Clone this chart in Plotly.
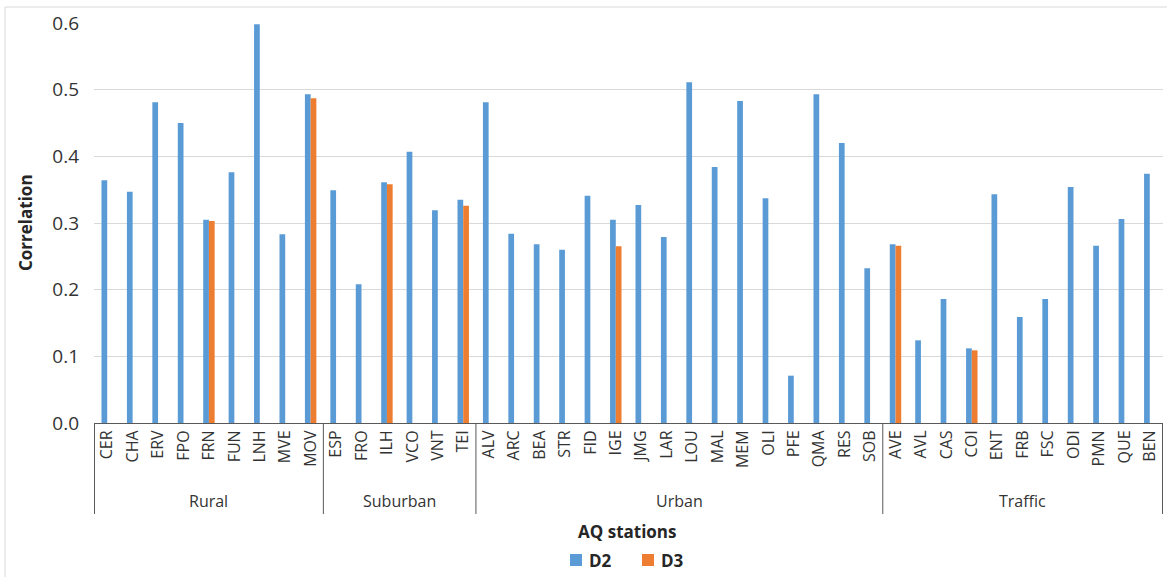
import plotly.graph_objects as go

# ---------------- data ----------------
group_names = ["Rural", "Suburban", "Urban", "Traffic"]

rural = ["CER", "CHA", "ERV", "FPO", "FRN", "FUN", "LNH", "MVE", "MOV"]
suburban = ["ESP", "FRO", "ILH", "VCO", "VNT", "TEI"]
urban = ["ALV", "ARC", "BEA", "STR", "FID", "IGE", "JMG", "LAR", "LOU", "MAL",
         "MEM", "OLI", "PFE", "QMA", "RES", "SOB"]
traffic = ["AVE", "AVL", "CAS", "COI", "ENT", "FRB", "FSC", "ODI", "PMN", "QUE", "BEN"]

d2_rural = [0.364, 0.347, 0.481, 0.450, 0.305, 0.376, 0.598, 0.283, 0.493]
d3_rural = [None, None, None, None, 0.303, None, None, None, 0.487]

d2_suburban = [0.349, 0.208, 0.361, 0.407, 0.319, 0.335]
d3_suburban = [None, None, 0.358, None, None, 0.326]

d2_urban = [0.481, 0.284, 0.268, 0.260, 0.341, 0.305, 0.327, 0.279, 0.511, 0.384,
            0.483, 0.337, 0.071, 0.493, 0.420, 0.232]
d3_urban = [None, None, None, None, None, 0.265, None, None, None, None,
            None, None, None, None, None, None]

d2_traffic = [0.268, 0.124, 0.186, 0.112, 0.343, 0.159, 0.186, 0.354, 0.266, 0.306, 0.374]
d3_traffic = [0.266, None, None, 0.109, None, None, None, None, None, None, None]

series_names = ["D2", "D3"]

# ---------------- build ----------------
groups = [rural, suburban, urban, traffic]
stations = rural + suburban + urban + traffic
d2 = d2_rural + d2_suburban + d2_urban + d2_traffic
d3 = d3_rural + d3_suburban + d3_urban + d3_traffic

FONT = "Open Sans"
TXT = "#333333"
DARK = "#262626"
BLUE = "#5B9BD5"
ORANGE = "#ED7D31"
AXIS = "#595959"

W, H = 1167, 577
ML, MR, MT, MB = 94, 4, 23, 154
PW, PH = W - ML - MR, H - MT - MB


def px_x(px):
    return (px - ML) / PW


def px_y(py):
    return (H - MB - py) / PH


fig = go.Figure()
fig.add_trace(go.Bar(x=stations, y=d2, name=series_names[0], showlegend=False,
                     marker=dict(color=BLUE, line=dict(width=0))))
fig.add_trace(go.Bar(x=stations, y=d3, name=series_names[1], showlegend=False,
                     marker=dict(color=ORANGE, line=dict(width=0))))

shapes = []
annotations = []

# group dividers and labels
start = 0
bounds = [-0.5]
for g, members in zip(group_names, groups):
    end = start + len(members)
    bounds.append(end - 0.5)
    annotations.append(dict(
        x=(start + end - 1) / 2, y=px_y(501), xref="x", yref="paper",
        text=g, showarrow=False, yanchor="middle",
        font=dict(family=FONT, size=16, color=TXT)))
    start = end
for b in bounds:
    shapes.append(dict(type="line", xref="x", yref="paper",
                       x0=b, x1=b, y0=0, y1=px_y(514),
                       line=dict(color=AXIS, width=1)))

# chart border
shapes.append(dict(type="rect", xref="paper", yref="paper",
                   x0=px_x(5), x1=px_x(1180), y0=px_y(600), y1=px_y(7),
                   line=dict(color="#D9D9D9", width=1), layer="below"))

# axis titles
annotations.append(dict(x=px_x(627), y=px_y(531), xref="paper", yref="paper",
                        text="<b>AQ stations</b>", showarrow=False, yanchor="middle",
                        font=dict(family=FONT, size=17, color=DARK)))
annotations.append(dict(x=px_x(25), y=0.5, xref="paper", yref="paper",
                        text="<b>Correlation</b>", showarrow=False, textangle=-90,
                        xanchor="center", yanchor="middle",
                        font=dict(family=FONT, size=17, color=DARK)))

# legend (drawn manually so it does not push the margins)
for name, color, sx in zip(series_names, [BLUE, ORANGE], [570, 642]):
    shapes.append(dict(type="rect", xref="paper", yref="paper",
                       x0=px_x(sx), x1=px_x(sx + 12), y0=px_y(566), y1=px_y(554),
                       fillcolor=color, line=dict(width=0)))
    annotations.append(dict(x=px_x(sx + 17), y=px_y(560), xref="paper", yref="paper",
                            text="<b>" + name + "</b>", showarrow=False,
                            xanchor="left", yanchor="middle",
                            font=dict(family=FONT, size=17, color=DARK)))

fig.update_layout(
    width=W, height=H, autosize=False,
    margin=dict(l=ML, r=MR, t=MT, b=MB),
    paper_bgcolor="white", plot_bgcolor="white",
    barmode="group", bargap=0.55, bargroupgap=0,
    font=dict(family=FONT, color=TXT),
    showlegend=False,
    shapes=shapes,
    annotations=annotations,
    xaxis=dict(type="category", categoryorder="array", categoryarray=stations,
               tickangle=-90, showline=True, linecolor=AXIS, linewidth=1,
               ticks="", showgrid=False, zeroline=False, automargin=False,
               tickfont=dict(family=FONT, size=16, color=TXT)),
    yaxis=dict(range=[0, 0.6], dtick=0.1, tickformat=".1f",
               showgrid=True, gridcolor="#D9D9D9", gridwidth=1,
               zeroline=False, showline=False, ticks="", automargin=False,
               ticklabelstandoff=14,
               tickfont=dict(family=FONT, size=19, color=TXT)),
)

fig.write_html("out.html")
